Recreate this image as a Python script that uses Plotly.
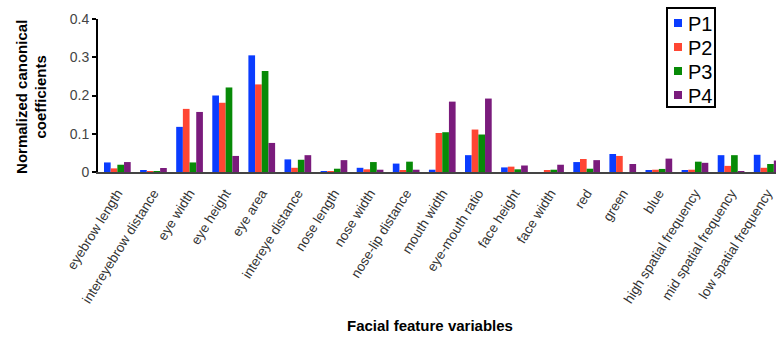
import plotly.graph_objects as go

# Facial feature variables on the x axis
features = [
    "eyebrow length", "intereyebrow distance", "eye width", "eye height",
    "eye area", "intereye distance", "nose length", "nose width",
    "nose-lip distance", "mouth width", "eye-mouth ratio", "face height",
    "face width", "red", "green", "blue", "high spatial frequency",
    "mid spatial frequency", "low spatial frequency",
]

# Normalized canonical coefficients per participant
p1 = [0.025, 0.0035, 0.118, 0.200, 0.305, 0.033, 0.002, 0.011, 0.022, 0.006,
      0.044, 0.012, 0.0, 0.026, 0.047, 0.0035, 0.005, 0.044, 0.045]
p2 = [0.0095, 0.0026, 0.165, 0.181, 0.229, 0.011, 0.002, 0.007, 0.0035, 0.102,
      0.111, 0.014, 0.0035, 0.034, 0.042, 0.006, 0.006, 0.016, 0.011]
p3 = [0.019, 0.0026, 0.025, 0.221, 0.264, 0.032, 0.0086, 0.026, 0.027, 0.104,
      0.098, 0.007, 0.006, 0.0086, 0.0, 0.008, 0.027, 0.044, 0.021]
p4 = [0.026, 0.0104, 0.157, 0.042, 0.076, 0.044, 0.031, 0.006, 0.006, 0.184,
      0.192, 0.017, 0.019, 0.031, 0.021, 0.035, 0.024, 0.0026, 0.030]

series_names = ["P1", "P2", "P3", "P4"]
series_values = [p1, p2, p3, p4]
colors = ["#0a3cff", "#ff4633", "#078a07", "#7a1b7c"]

y_ticks = [0, 0.1, 0.2, 0.3, 0.4]
y_ticklabels = ["0", "0.1", "0.2", "0.3", "0.4"]

# plot-area geometry in pixels, used to place the legend box
W, H = 776, 337
L, R, T, B = 98, 0, 19, 165
pw, ph = W - L - R, H - T - B


def px_x(x):
    return (x - L) / pw


def px_y(y):
    return (H - B - y) / ph


fig = go.Figure()
for name, vals, col in zip(series_names, series_values, colors):
    fig.add_trace(go.Bar(
        x=list(range(len(features))), y=vals, name=name,
        marker=dict(color=col, line=dict(width=0)),
        showlegend=False,
    ))

# compact boxed legend: small colour squares with large labels
shapes = [dict(type="rect", xref="paper", yref="paper",
               x0=px_x(667), x1=px_x(715), y0=px_y(107), y1=px_y(8),
               line=dict(color="black", width=2), fillcolor="white", layer="above")]
annotations = []
for k, (name, col) in enumerate(zip(series_names, colors)):
    cy = 23 + 24 * k
    shapes.append(dict(type="rect", xref="paper", yref="paper",
                       x0=px_x(674), x1=px_x(682), y0=px_y(cy + 4), y1=px_y(cy - 4),
                       line=dict(width=0), fillcolor=col, layer="above"))
    annotations.append(dict(text=name, xref="paper", yref="paper",
                            x=px_x(686), y=px_y(cy + 1), xanchor="left", yanchor="middle",
                            showarrow=False, font=dict(size=20, color="black")))

annotations += [
    dict(text="<b>Facial feature variables</b>", xref="paper", yref="paper",
         x=0.49, y=-1.0, showarrow=False, xanchor="center", yanchor="middle",
         font=dict(size=15, color="black")),
    dict(text="<b>Normalized canonical<br>coefficients</b>", xref="paper", yref="paper",
         x=-0.099, y=0.49, showarrow=False, textangle=-90,
         xanchor="center", yanchor="middle",
         font=dict(size=15, color="black")),
]

fig.update_layout(
    width=W, height=H,
    margin=dict(l=L, r=R, t=T, b=B),
    paper_bgcolor="white", plot_bgcolor="white",
    barmode="group", bargap=0.26, bargroupgap=0,
    font=dict(family="Liberation Sans, Arial, sans-serif", color="#444"),
    xaxis=dict(
        range=[-0.536, 18.245],
        tickmode="array", tickvals=list(range(len(features))), ticktext=features,
        tickangle=-58, tickfont=dict(size=13.5, color="#333"),
        ticklabelstandoff=6,
        showline=True, linecolor="#444", linewidth=2,
        ticks="", showgrid=False, zeroline=False,
    ),
    yaxis=dict(
        range=[0, 0.4],
        tickmode="array", tickvals=y_ticks, ticktext=y_ticklabels,
        tickfont=dict(size=14, color="#444"),
        showline=True, linecolor="black", linewidth=2,
        ticks="outside", ticklen=4, tickwidth=2, tickcolor="black",
        showgrid=False, zeroline=False,
    ),
    shapes=shapes,
    annotations=annotations,
)

fig.write_html("out.html")
